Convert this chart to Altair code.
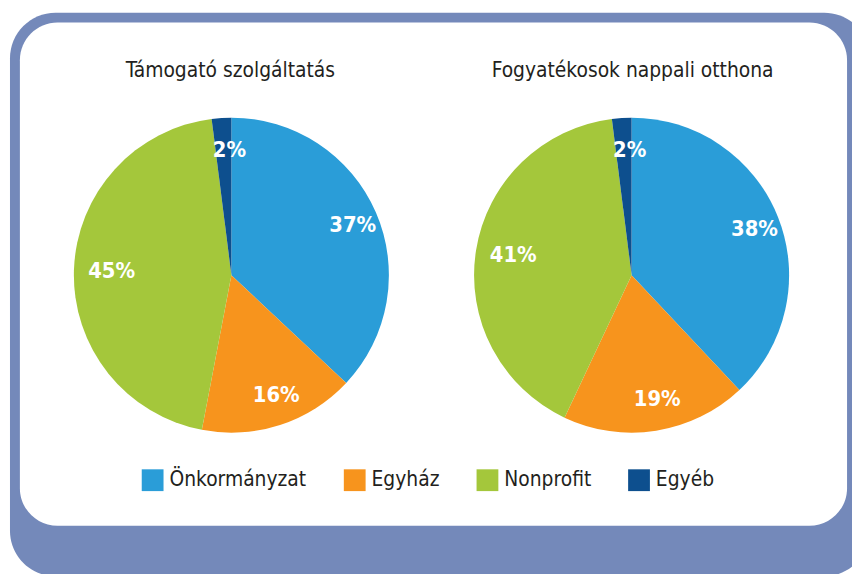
import altair as alt
import pandas as pd

# ---- data ----
categories = ["Önkormányzat", "Egyház", "Nonprofit", "Egyéb"]
colors = ["#2a9dd8", "#f7941d", "#a4c73b", "#0d4f8e"]
pie_titles = ["Támogató szolgáltatás", "Fogyatékosok nappali otthona"]
values_pie1 = [37, 16, 45, 2]
values_pie2 = [38, 19, 41, 2]

FONT = "DejaVu Sans Condensed, Liberation Sans Narrow, sans-serif"
TEXT_COLOR = "#231f20"
FRAME_BLUE = "#7489ba"

rows = []
for p, vals in enumerate([values_pie1, values_pie2]):
    for i, (c, v) in enumerate(zip(categories, vals)):
        rows.append({"pie": p, "cat": c, "ord": i, "value": v, "label": f"{v}%"})
df = pd.DataFrame(rows)
titles_df = pd.DataFrame({"pie": [0, 1], "title": pie_titles})

W, H = 852, 566
centers = [(225.5, 267), (629.5, 267)]

one = alt.Data(values=[{"a": 1}])

outer = alt.Chart(one).mark_rect(cornerRadius=46, color=FRAME_BLUE).encode(
    x=alt.value(2), x2=alt.value(870), y=alt.value(2), y2=alt.value(571)
)
inner = alt.Chart(one).mark_rect(cornerRadius=38, color="white").encode(
    x=alt.value(12), x2=alt.value(847), y=alt.value(12), y2=alt.value(520)
)

color_enc = alt.Color(
    "cat:N",
    scale=alt.Scale(domain=categories, range=colors),
    sort=categories,
    legend=alt.Legend(
        orient="none", legendX=135, legendY=463, direction="horizontal",
        title=None, symbolType="square", symbolSize=484, symbolStrokeWidth=0,
        symbolOpacity=1, labelFont=FONT, labelFontSize=21, labelColor=TEXT_COLOR,
        labelOffset=6, columnPadding=37, padding=0, labelLimit=400,
    ),
)

layers = [outer, inner]
for p, (cx, cy) in enumerate(centers):
    base = alt.Chart(df).transform_filter(alt.datum.pie == p)
    arcs = base.mark_arc(outerRadius=159).encode(
        theta=alt.Theta("value:Q", stack=True),
        color=color_enc,
        order=alt.Order("ord:Q"),
        x=alt.value(cx), y=alt.value(cy),
    )
    labels = base.mark_text(
        radius=127, font=FONT, fontSize=22, fontWeight="bold", color="white",
        align="center", baseline="middle", dx=6,
    ).encode(
        theta=alt.Theta("value:Q", stack=True),
        detail="cat:N",
        order=alt.Order("ord:Q"),
        text="label:N",
        x=alt.value(cx), y=alt.value(cy),
    )
    title = alt.Chart(titles_df).transform_filter(alt.datum.pie == p).mark_text(
        font=FONT, fontSize=21, color=TEXT_COLOR, align="center", baseline="alphabetic"
    ).encode(text="title:N", x=alt.value(cx - 1 + p * 2), y=alt.value(67))
    layers += [arcs, labels, title]

chart = alt.layer(*layers).properties(
    width=W, height=H, autosize=alt.AutoSizeParams(type="none"), padding=0,
    background="white",
).configure_view(stroke=None)

chart.save("out.html", embed_options={"renderer": "svg", "actions": False})
